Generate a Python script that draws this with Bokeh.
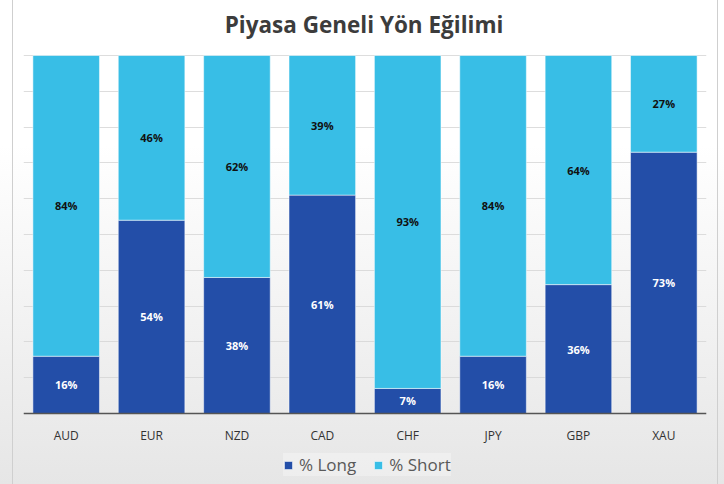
from bokeh.plotting import figure
from bokeh.models import ColumnDataSource, FactorRange, Legend, LegendItem, Range1d, Label, CategoricalAxis
from bokeh.core.properties import value
from bokeh.embed import file_html
from bokeh.resources import INLINE

categories = ["AUD", "EUR", "NZD", "CAD", "CHF", "JPY", "GBP", "XAU"]
long_pct = [16, 54, 38, 61, 7, 16, 36, 73]
short_pct = [84, 46, 62, 39, 93, 84, 64, 27]
series_names = ["% Long", "% Short"]
title_text = "Piyasa Geneli Yön Eğilimi"

LONG_COLOR = "#234EA8"
SHORT_COLOR = "#38BEE6"

long_mid = [l / 2 for l in long_pct]
short_mid = [l + s / 2 for l, s in zip(long_pct, short_pct)]

source = ColumnDataSource(dict(
    cat=categories,
    long=long_pct,
    short=short_pct,
    long_mid=long_mid,
    short_mid=short_mid,
    long_lbl=[f"{v}%" for v in long_pct],
    short_lbl=[f"{v}%" for v in short_pct],
))

# The frame spans the whole canvas height; the plotting band 0..100 sits
# between y=55 and y=413 px, the title above it and axis + legend below.
W, H = 724, 484
BAND_TOP, AXIS_Y = 55, 413
units_per_px = 100 / (AXIS_Y - BAND_TOP)
y_low = -(H - AXIS_Y) * units_per_px
y_high = 100 + BAND_TOP * units_per_px

p = figure(
    x_range=FactorRange(*categories, range_padding=0),
    y_range=Range1d(y_low, y_high),
    width=W, height=H,
    output_backend="svg", toolbar_location=None,
    x_axis_location=None, y_axis_location=None,
    min_border_left=23, min_border_right=18, min_border_top=0, min_border_bottom=0,
)
p.styles = {"background": (
    "linear-gradient(to right, transparent 12px, #cfcfcf 12px, #cfcfcf 13px, transparent 13px, "
    "transparent 717px, #cfcfcf 717px, #cfcfcf 718px, transparent 718px), "
    "linear-gradient(to bottom, #ffffff 0%, #ffffff 30%, #e6e6e6 100%)")}
p.background_fill_color = None
p.border_fill_color = None
p.outline_line_color = None

frame_w = W - 23 - 18
title = Label(
    x=frame_w / 2 - 1, y=H - 24, x_units="screen", y_units="screen",
    text=title_text, text_align="center", text_baseline="middle",
    text_font="Open Sans", text_font_size="22.5px", text_font_style="bold",
    text_color="#3c3c3c",
)
p.add_layout(title)

renderers = p.vbar_stack(
    ["long", "short"], x="cat", width=0.78, source=source,
    color=[LONG_COLOR, SHORT_COLOR], line_color="white", line_alpha=0.5, line_width=1,
)

p.text(x="cat", y="long_mid", text="long_lbl", source=source,
       text_align="center", text_baseline="middle", text_color="white",
       text_font=value("Open Sans"), text_font_size="11px", text_font_style="bold")
p.text(x="cat", y="short_mid", text="short_lbl", source=source,
       text_align="center", text_baseline="middle", text_color="#111111",
       text_font=value("Open Sans"), text_font_size="11px", text_font_style="bold")

p.xgrid.grid_line_color = None
p.ygrid.grid_line_color = "#d4d4d4"
p.ygrid.grid_line_alpha = 0.8
p.ygrid.ticker = list(range(0, 101, 10))

xa = CategoricalAxis(fixed_location=0)
xa.axis_line_color = "#555555"
xa.axis_line_width = 1.5
xa.major_tick_line_color = None
xa.minor_tick_line_color = None
xa.major_label_standoff = 7
xa.major_label_text_font = "Open Sans"
xa.major_label_text_font_size = "12px"
xa.major_label_text_color = "#333333"
p.add_layout(xa, "below")

legend = Legend(
    items=[LegendItem(label=series_names[0], renderers=[renderers[0]]),
           LegendItem(label=series_names[1], renderers=[renderers[1]])],
    orientation="horizontal",
    location=(260, 8),
    glyph_width=10, glyph_height=10, label_height=20,
    label_text_font="Open Sans", label_text_font_size="17px", label_text_color="#595959",
    label_standoff=6, spacing=17, padding=4, margin=0,
    background_fill_color="#ffffff", background_fill_alpha=0.3,
    border_line_color=None,
)
p.add_layout(legend, "center")

open("out.html", "w").write(file_html(p, INLINE))
